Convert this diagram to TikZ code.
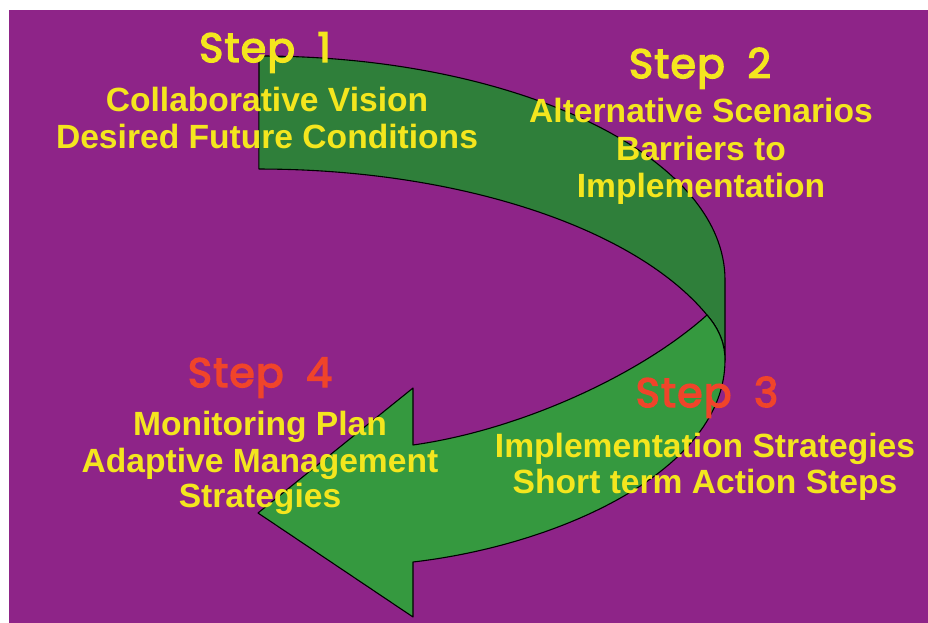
\documentclass[tikz,border=0pt]{standalone}
\usepackage{fontspec}
\setmainfont{Liberation Sans}
\newfontfamily\stepfont{Poppins}[FakeBold=3.5, LetterSpace=3]
\definecolor{bgpurple}{HTML}{8E2488}
\definecolor{darkgreen}{HTML}{2F7F3A}
\definecolor{lightgreen}{HTML}{35993F}
\definecolor{txtyellow}{HTML}{F4E61E}
\definecolor{txtred}{HTML}{F0442A}
\newcommand{\stp}[1]{Step\hspace{0.55em}#1}
\tikzset{
  band/.style={draw=black, line width=1.1pt, line join=round},
  steptitle/.style={anchor=base, inner sep=0pt, font=\stepfont\fontsize{41}{43}\selectfont},
  body/.style={anchor=base, inner sep=0pt, text=txtyellow, font=\bfseries\fontsize{33.6}{36}\selectfont},
}
\begin{document}
\begin{tikzpicture}[x=1pt,y=-1pt]
\useasboundingbox (0,0) rectangle (928,623);
\fill[white] (0,0) rectangle (928,623);
\fill[bgpurple] (9,10) rectangle (928,623);
% back (upper) band
\draw[band, fill=darkgreen]
  (259,56) arc[start angle=90, end angle=0, x radius=466, y radius=-224]
  -- (725,360)
  .. controls (725,345) and (720,330) .. (707,315)
  arc[start angle=21.6, end angle=90, x radius=482, y radius=-231]
  -- cycle;
% front (lower) band with arrowhead
\draw[band, fill=lightgreen]
  (707,315) .. controls (720,330) and (725,345) .. (725,360)
  .. controls (725,470) and (560,545) .. (413,562)
  -- (413,617) -- (258,513) -- (413,388) -- (413,445)
  .. controls (520,430) and (640,375) .. (707,315) -- cycle;
% Step 1
\node[steptitle, text=txtyellow] (s1) at (265,62) {\stp{1}};
\node[body] (s1a) at (267,112) {Collaborative Vision};
\node[body] (s1b) at (267,148) {Desired Future Conditions};
% Step 2
\node[steptitle, text=txtyellow] (s2) at (700,78) {\stp{2}};
\node[body] (s2a) at (701,122) {Alternative Scenarios};
\node[body] (s2b) at (701,160) {Barriers to};
\node[body] (s2c) at (701,197) {Implementation};
% Step 3
\node[steptitle, text=txtred] (s3) at (707,407) {\stp{3}};
\node[body] (s3a) at (705,457) {Implementation Strategies};
\node[body] (s3b) at (705,493) {Short term Action Steps};
% Step 4
\node[steptitle, text=txtred] (s4) at (260,387) {\stp{4}};
\node[body] (s4a) at (260,435) {Monitoring Plan};
\node[body] (s4b) at (260,472) {Adaptive Management};
\node[body] (s4c) at (260,507) {Strategies};
\end{tikzpicture}
\end{document}
